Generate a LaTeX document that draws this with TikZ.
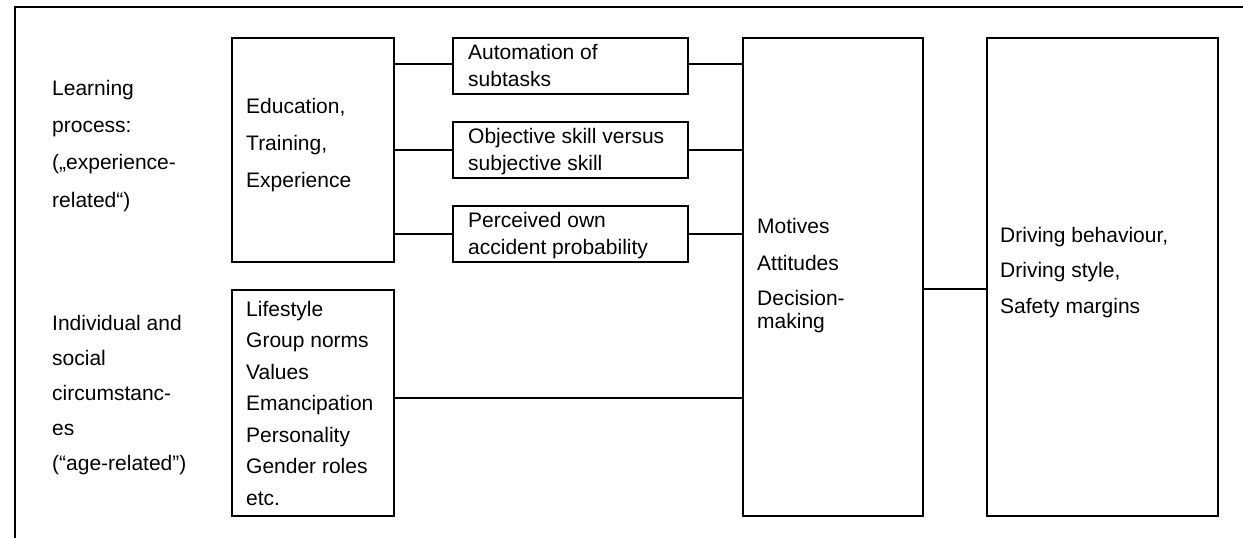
\documentclass[tikz,border=0pt]{standalone}
\usepackage{fontspec}
\setmainfont{Liberation Sans}
\begin{document}
\begin{tikzpicture}[x=1pt,y=-1pt,
  box/.style={draw,line width=2.2pt,rectangle,inner sep=0pt,anchor=north west},
  conn/.style={line width=2.2pt},
  txt/.style={anchor=base west,inner sep=0pt,align=left},
  fs/.style={font=\fontsize{21}{#1}\selectfont}]
\useasboundingbox (0,0) rectangle (1243,538);
% outer frame (open to the right and bottom)
\draw[conn] (1243,7) -- (15,7) -- (15,538);
% boxes
\node[box,minimum width=162pt,minimum height=224pt] (edu) at (231,37) {};
\node[box,minimum width=235pt,minimum height=56pt] (auto) at (452,37) {};
\node[box,minimum width=235pt,minimum height=56pt] (obj) at (452,121) {};
\node[box,minimum width=235pt,minimum height=56pt] (perc) at (452,205) {};
\node[box,minimum width=180pt,minimum height=478pt] (mot) at (742,37) {};
\node[box,minimum width=231pt,minimum height=478pt] (drv) at (986,37) {};
\node[box,minimum width=162pt,minimum height=226pt] (life) at (231,289) {};
% connectors
\draw[conn] ([yshift=2pt]auto.west) -- ([yshift=2pt]auto.west -| edu.east);
\draw[conn] (obj.west) -- (obj.west -| edu.east);
\draw[conn] (perc.west) -- (perc.west -| edu.east);
\draw[conn] ([yshift=2pt]auto.east) -- ([yshift=2pt]auto.east -| mot.west);
\draw[conn] (obj.east) -- (obj.east -| mot.west);
\draw[conn] (perc.east) -- (perc.east -| mot.west);
\draw[conn] ([yshift=5pt]life.east) -- ([yshift=5pt]life.east -| mot.west);
\draw[conn] (mot.east |- life.north) -- (life.north -| drv.west);
% texts (base anchor = baseline of the last line)
\node[txt,fs=37.3] (learn) at (52,207) {Learning\\process:\\(„experience-\\related“)};
\node[txt,fs=35] (indiv) at (52,470) {Individual and\\social\\circumstanc-\\es\\(“age-related”)};
\node[txt,fs=37] (edut) at (246,187) {Education,\\Training,\\Experience};
\node[txt,fs=27] (autot) at (468,86) {Automation of\\subtasks};
\node[txt,fs=27] (objt) at (468,170) {Objective skill versus\\subjective skill};
\node[txt,fs=27] (perct) at (468,254) {Perceived own\\accident probability};
\node[txt,fs=23] (mott) at (757,328) {Motives\\[14pt]Attitudes\\[12pt]Decision-\\making};
\node[txt,fs=31.5] (lifet) at (246,505) {Lifestyle\\Group norms\\Values\\Emancipation\\Personality\\Gender roles\\etc.};
\node[txt,fs=35.5] (drvt) at (1000,313) {Driving behaviour,\\Driving style,\\Safety margins};
\end{tikzpicture}
\end{document}
